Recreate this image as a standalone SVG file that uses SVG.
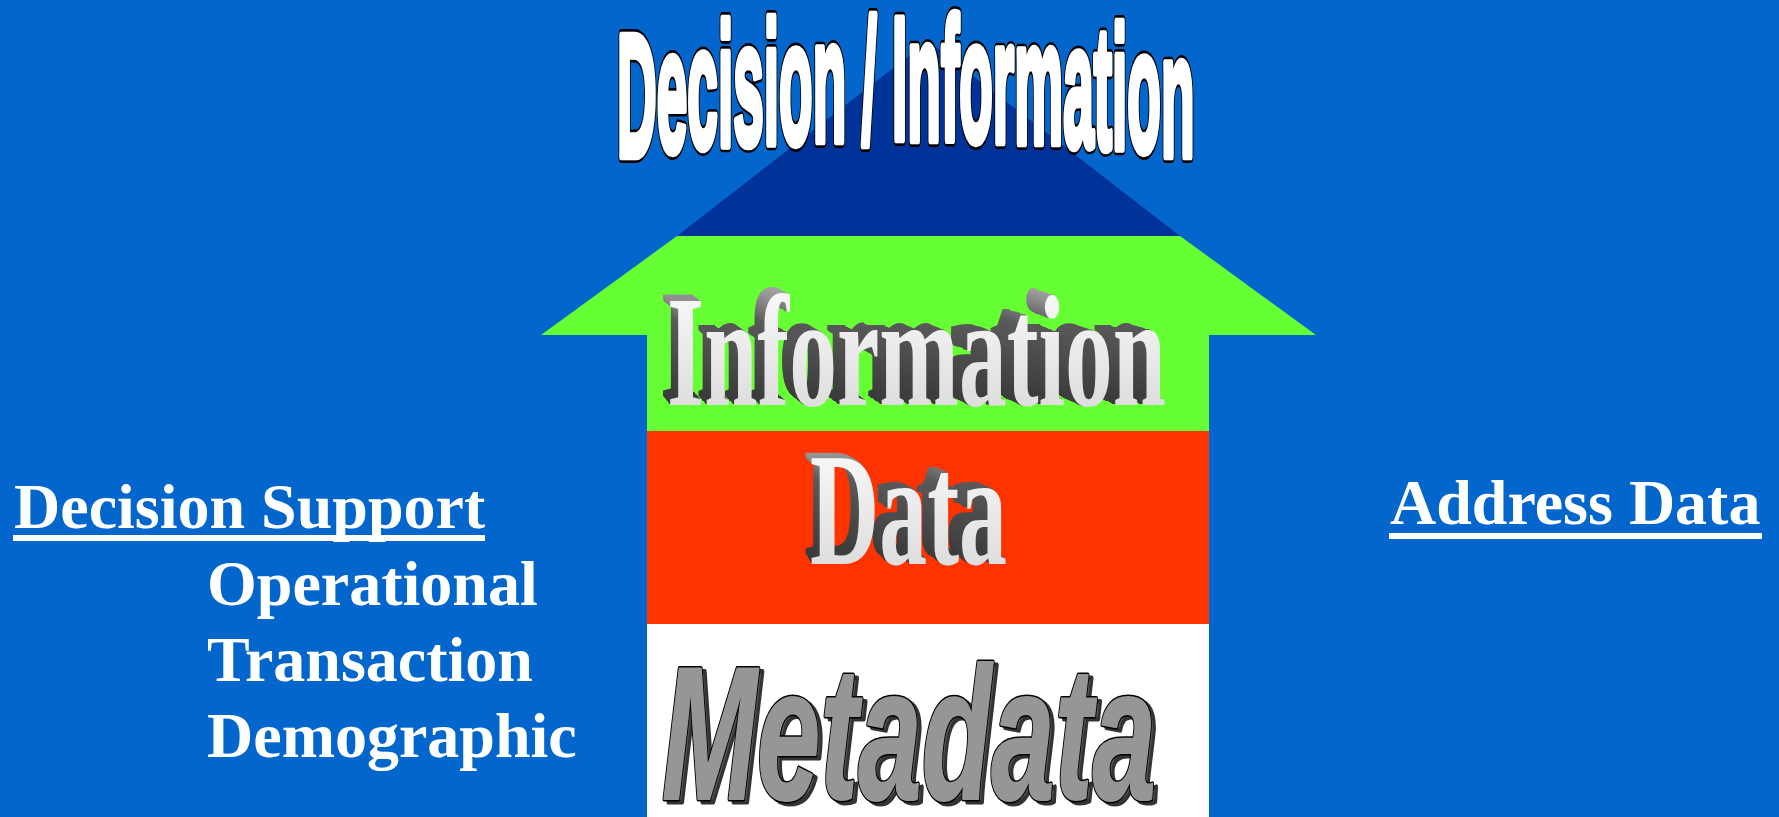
<svg xmlns="http://www.w3.org/2000/svg" xmlns:xlink="http://www.w3.org/1999/xlink" width="1779" height="817" viewBox="0 0 1779 817">
<style>
.lbl{font-family:"Liberation Serif","Times New Roman",serif;font-weight:bold;font-size:64px;fill:#ffffff}
.ttl{font-family:"Liberation Sans",Arial,sans-serif;font-weight:bold;font-size:100px}
.ttl-back{fill:#000;stroke:#000;stroke-width:8px;stroke-linejoin:round;vector-effect:non-scaling-stroke}
.ttl-front{fill:#fff;stroke:#fff;stroke-width:5px;stroke-linejoin:round;vector-effect:non-scaling-stroke}
.w3d{font-family:"Liberation Serif","Times New Roman",serif;font-weight:bold}
.ext-i{fill:url(#extI)}
.ext-d{fill:url(#extD)}
.meta{font-family:"Liberation Sans",Arial,sans-serif;font-weight:bold;font-style:italic;font-size:189px;stroke-linejoin:round}
</style>
<defs>
<linearGradient id="front" x1="0" y1="0" x2="0" y2="1">
<stop offset="0" stop-color="#ffffff"/><stop offset="1" stop-color="#d6d6d6"/>
</linearGradient>
<linearGradient id="extI" gradientUnits="userSpaceOnUse" x1="0" y1="290" x2="0" y2="405">
<stop offset="0" stop-color="#a8a8a8"/><stop offset="0.3" stop-color="#5a5a5a"/><stop offset="1" stop-color="#3a3a3a"/>
</linearGradient>
<linearGradient id="extD" gradientUnits="userSpaceOnUse" x1="0" y1="448" x2="0" y2="564">
<stop offset="0" stop-color="#a8a8a8"/><stop offset="0.3" stop-color="#5a5a5a"/><stop offset="1" stop-color="#3a3a3a"/>
</linearGradient>
<text id="titleT" class="ttl" x="0" y="89.7 86.8 84.5 83.9 82.8 82.8 82.1 81.0 81.6 81.6 80.5 79.9 80.5 80.5 81.0 81.6 82.1 83.9 85.0 85.7 86.8 89.7">Decision / Information</text>
<text id="infoT" class="w3d" x="667" y="405" font-size="159" textLength="499" lengthAdjust="spacingAndGlyphs">Information</text>
<text id="dataT" class="w3d" x="810" y="564" font-size="162" textLength="197" lengthAdjust="spacingAndGlyphs">Data</text>
<text id="metaT" class="meta" x="662" y="799" textLength="494" lengthAdjust="spacingAndGlyphs">Metadata</text>
</defs>

<rect x="0" y="0" width="1779" height="817" fill="#0366CC"/>

<g id="arrow-head">
<polygon points="928,41 677,236 1180,236" fill="#003399"/>
</g>

<g id="layer-information">
<polygon points="677,236 1180,236 1316,335 1209,335 1209,431 647,431 647,335 541,335" fill="#66FF33"/>
<g>
<use xlink:href="#infoT" class="ext-i" transform="matrix(0.969,0,0,0.969,13.70,3.84)"/>
<use xlink:href="#infoT" class="ext-i" transform="matrix(0.9716,0,0,0.9716,12.56,3.52)"/>
<use xlink:href="#infoT" class="ext-i" transform="matrix(0.9742,0,0,0.9742,11.42,3.20)"/>
<use xlink:href="#infoT" class="ext-i" transform="matrix(0.9767,0,0,0.9767,10.28,2.88)"/>
<use xlink:href="#infoT" class="ext-i" transform="matrix(0.9793,0,0,0.9793,9.13,2.56)"/>
<use xlink:href="#infoT" class="ext-i" transform="matrix(0.9819,0,0,0.9819,7.99,2.24)"/>
<use xlink:href="#infoT" class="ext-i" transform="matrix(0.9845,0,0,0.9845,6.85,1.92)"/>
<use xlink:href="#infoT" class="ext-i" transform="matrix(0.9871,0,0,0.9871,5.71,1.60)"/>
<use xlink:href="#infoT" class="ext-i" transform="matrix(0.9897,0,0,0.9897,4.57,1.28)"/>
<use xlink:href="#infoT" class="ext-i" transform="matrix(0.9923,0,0,0.9923,3.43,0.96)"/>
<use xlink:href="#infoT" class="ext-i" transform="matrix(0.9948,0,0,0.9948,2.28,0.64)"/>
<use xlink:href="#infoT" class="ext-i" transform="matrix(0.9974,0,0,0.9974,1.14,0.32)"/>
<use xlink:href="#infoT" fill="url(#front)"/>
</g>
</g>

<g id="layer-data">
<rect x="647" y="431" width="562" height="193" fill="#FF3300"/>
<g>
<use xlink:href="#dataT" class="ext-d" transform="matrix(0.95,0,0,0.95,34.5,17.85)"/>
<use xlink:href="#dataT" class="ext-d" transform="matrix(0.9542,0,0,0.9542,31.63,16.36)"/>
<use xlink:href="#dataT" class="ext-d" transform="matrix(0.9583,0,0,0.9583,28.75,14.88)"/>
<use xlink:href="#dataT" class="ext-d" transform="matrix(0.9625,0,0,0.9625,25.88,13.39)"/>
<use xlink:href="#dataT" class="ext-d" transform="matrix(0.9667,0,0,0.9667,23.0,11.9)"/>
<use xlink:href="#dataT" class="ext-d" transform="matrix(0.9708,0,0,0.9708,20.13,10.41)"/>
<use xlink:href="#dataT" class="ext-d" transform="matrix(0.975,0,0,0.975,17.25,8.93)"/>
<use xlink:href="#dataT" class="ext-d" transform="matrix(0.9792,0,0,0.9792,14.38,7.44)"/>
<use xlink:href="#dataT" class="ext-d" transform="matrix(0.9833,0,0,0.9833,11.5,5.95)"/>
<use xlink:href="#dataT" class="ext-d" transform="matrix(0.9875,0,0,0.9875,8.63,4.46)"/>
<use xlink:href="#dataT" class="ext-d" transform="matrix(0.9917,0,0,0.9917,5.75,2.98)"/>
<use xlink:href="#dataT" class="ext-d" transform="matrix(0.9958,0,0,0.9958,2.88,1.49)"/>
<use xlink:href="#dataT" fill="url(#front)"/>
</g>
</g>

<g id="layer-metadata">
<rect x="647" y="624" width="562" height="193" fill="#ffffff"/>
<use xlink:href="#metaT" transform="translate(4,3)" fill="#555" stroke="#333" stroke-width="5"/>
<use xlink:href="#metaT" fill="#000" stroke="#000" stroke-width="5"/>
<use xlink:href="#metaT" fill="#969696" stroke="#969696" stroke-width="2"/>
</g>

<g id="title" transform="translate(617,0) scale(0.55,1.74)">
<use xlink:href="#titleT" class="ttl-back"/>
<use xlink:href="#titleT" class="ttl-front"/>
</g>

<g id="decision-support">
<text class="lbl" x="14" y="528">Decision Support</text>
<rect x="13" y="535" width="472" height="6" fill="#ffffff"/>
<text class="lbl" x="207" y="605">Operational</text>
<text class="lbl" x="207" y="681">Transaction</text>
<text class="lbl" x="207" y="757">Demographic</text>
</g>

<g id="address-data">
<text class="lbl" x="1390" y="524">Address Data</text>
<rect x="1389" y="533" width="373" height="6" fill="#ffffff"/>
</g>

<g id="connectors"></g>
</svg>
